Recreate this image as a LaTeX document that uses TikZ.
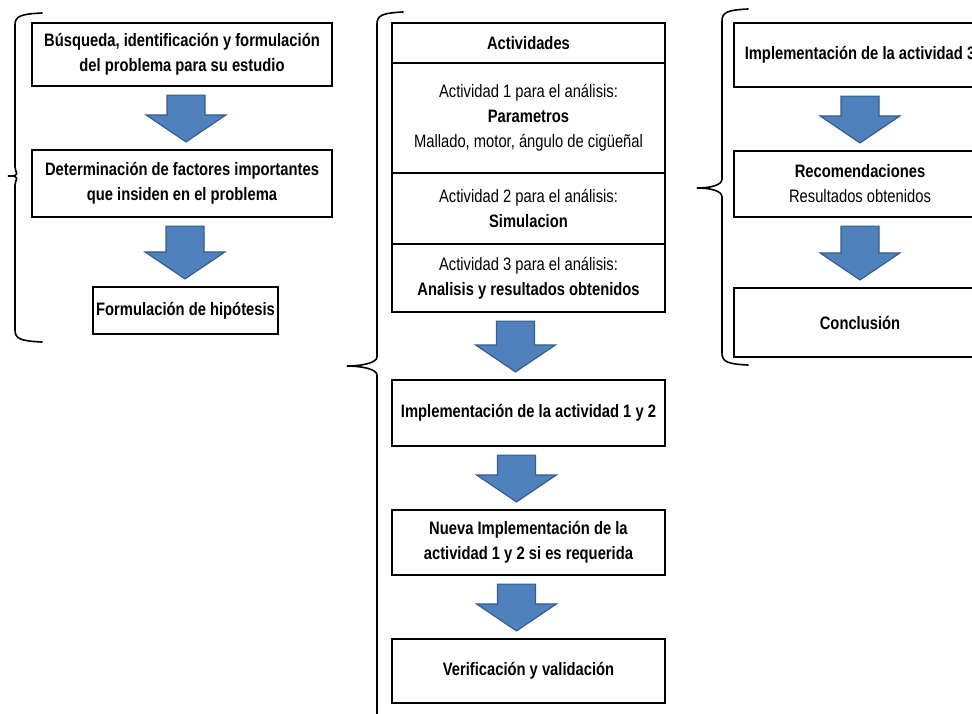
\documentclass[tikz,border=0pt]{standalone}
\usepackage{fontspec}
\setmainfont{Liberation Sans}[FakeStretch=0.82]
\usetikzlibrary{calc}
\definecolor{ArrowBlue}{RGB}{79,129,189}
\definecolor{ArrowEdge}{RGB}{56,93,138}

\tikzset{
  stepbox/.style={draw, line width=2.2pt, inner sep=2pt, align=center,
    font=\fontsize{18}{25}\selectfont},
  blockarrow/.style={fill=ArrowBlue, draw=ArrowEdge, line width=1.2pt, line join=miter},
  bracket/.style={line width=1.6pt, line cap=round}
}

% block arrow from one box down to the next
\newcommand{\bigarrow}[3][0]{%
  \coordinate (arrtop) at ($(#2.south)+(#1,8)$);
  \coordinate (arrtip) at ($(arrtop |- #3.north)+(0,-7)$);
  \filldraw[blockarrow] ($(arrtop)+(-19,0)$) -- ($(arrtip)+(-19,-27)$) -- ($(arrtip)+(-40,-27)$)
    -- (arrtip) -- ($(arrtip)+(40,-27)$) -- ($(arrtip)+(19,-27)$) -- ($(arrtop)+(19,0)$) -- cycle;
}

% curly bracket: x of stem, tip x, tip y, top y, bottom y, end x
\newcommand{\sidebrace}[6]{%
  \draw[bracket] (#6,#4) .. controls (#1+6,#4+1) and (#1,#4+3) .. (#1,#4+12)
    -- (#1,#3-9) .. controls (#1,#3-3) and (#2+14,#3) .. (#2,#3)
    .. controls (#2+14,#3) and (#1,#3+3) .. (#1,#3+9)
    -- (#1,#5-12) .. controls (#1,#5-3) and (#1+6,#5-1) .. (#6,#5);
}

\begin{document}
\begin{tikzpicture}[x=1pt, y=-1pt]
  \useasboundingbox (0,0) rectangle (972,713);
  \clip (0,0) rectangle (972,713);

  % left column
  \node[stepbox, minimum width=300, minimum height=63] (busq) at (182,54.5)
    {\textbf{Búsqueda, identificación y formulación}\\ \textbf{del problema para su estudio}};
  \node[stepbox, minimum width=300, minimum height=67] (deter) at (182,183.5)
    {\textbf{Determinación de factores importantes}\\ \textbf{que insiden en el problema}};
  \node[stepbox, minimum width=185, minimum height=47] (hipo) at (185.5,310.5)
    {\textbf{Formulación de hipótesis}};

  \bigarrow[4]{busq}{deter}
  \bigarrow[3]{deter}{hipo}
  \sidebrace{15}{8}{176}{13}{342}{42}

  % middle column
  \node[stepbox, minimum width=273, minimum height=40] (actv) at (528.5,43)
    {\textbf{Actividades}};
  \node[stepbox, minimum width=273, minimum height=110] (act1) at (528.5,118)
    {Actividad 1 para el análisis:\\ \textbf{Parametros}\\ Mallado, motor, ángulo de cigüeñal};
  \node[stepbox, minimum width=273, minimum height=71] (act2) at (528.5,208.5)
    {Actividad 2 para el análisis:\\ \textbf{Simulacion}};
  \node[stepbox, minimum width=273, minimum height=68] (act3) at (528.5,278)
    {Actividad 3 para el análisis:\\ \textbf{Analisis y resultados obtenidos}};
  \node[stepbox, minimum width=273, minimum height=66] (impl12) at (528.5,413)
    {\textbf{Implementación de la actividad 1 y 2}};
  \node[stepbox, minimum width=273, minimum height=65] (nueva) at (528.5,542.5)
    {\textbf{Nueva Implementación de la}\\ \textbf{actividad 1 y 2 si es requerida}};
  \node[stepbox, minimum width=273, minimum height=64] (verif) at (528.5,671)
    {\textbf{Verificación y validación}};

  \bigarrow[-13]{act3}{impl12}
  \bigarrow[-12]{impl12}{nueva}
  \bigarrow[-12]{nueva}{verif}
  \sidebrace{377}{347}{366}{12}{760}{403}

  % right column
  \node[stepbox, minimum width=252, minimum height=64] (impl3) at (860,55)
    {\textbf{Implementación de la actividad 3}};
  \node[stepbox, minimum width=252, minimum height=66] (recom) at (860,184)
    {\textbf{Recomendaciones}\\ Resultados obtenidos};
  \node[stepbox, minimum width=252, minimum height=69] (concl) at (860,322.5)
    {\textbf{Conclusión}};

  \bigarrow{impl3}{recom}
  \bigarrow{recom}{concl}
  \sidebrace{722}{697}{188}{9}{365}{748}
\end{tikzpicture}
\end{document}
